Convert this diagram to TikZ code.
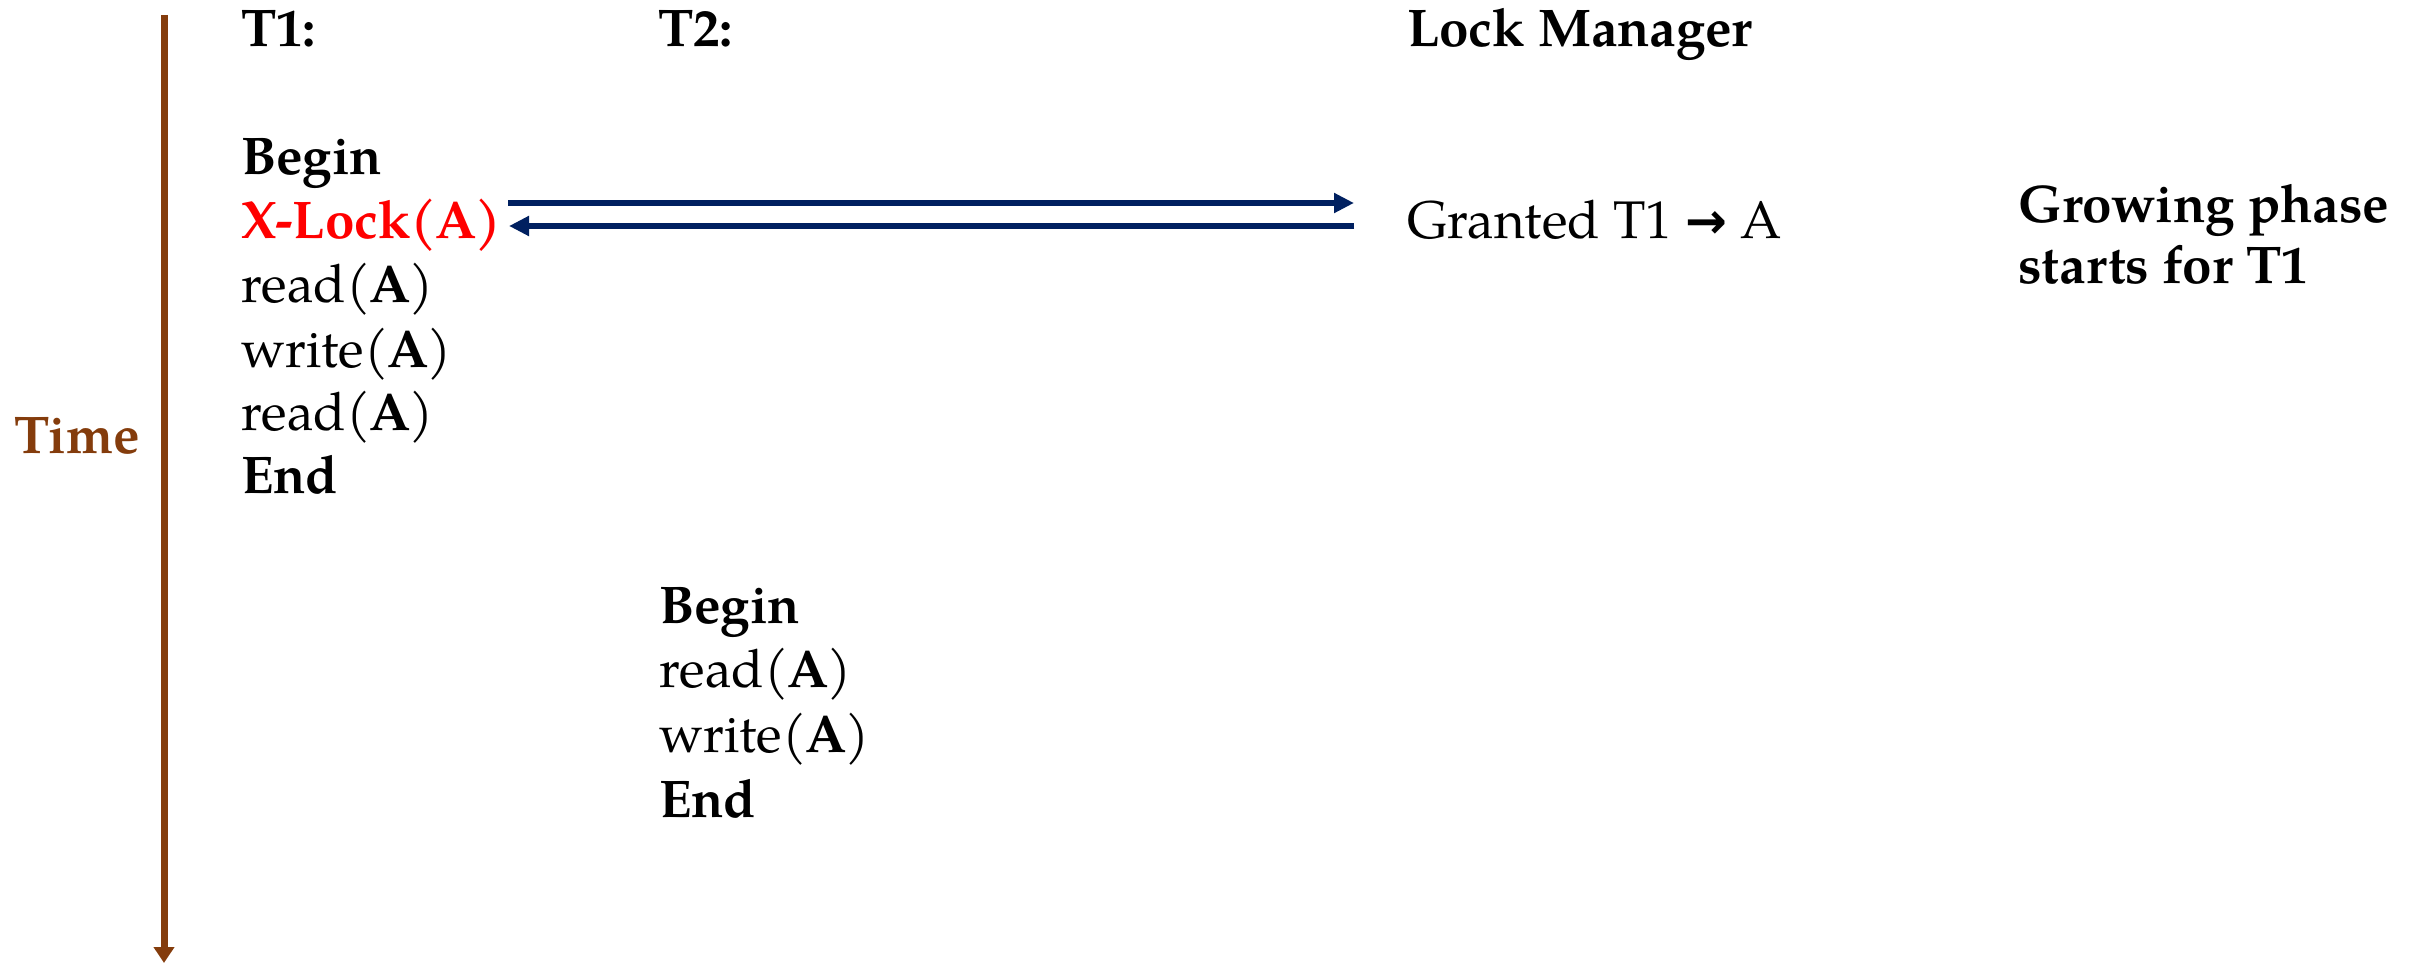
\documentclass[tikz,border=0pt]{standalone}
\usepackage{fontspec}
\setmainfont{TeX Gyre Pagella}
\newfontfamily\symfont{DejaVu Sans}
\usetikzlibrary{arrows.meta}
\definecolor{timebrown}{HTML}{843C0C}
\definecolor{msgnavy}{HTML}{002060}
\definecolor{lockred}{HTML}{FF0000}
\tikzset{
  txt/.style={anchor=base west, inner sep=0pt, outer sep=0pt, font=\fontsize{53}{64}\selectfont},
  hdr/.style={txt, font=\fontsize{53}{64}\selectfont\bfseries},
  msg/.style={draw=msgnavy, line width=6pt, -{Triangle[length=20pt,width=19pt]}},
}
\newcommand{\opA}[1]{#1(\kern-1pt\textbf{A}\kern-1pt)}
\begin{document}
\begin{tikzpicture}[x=1pt,y=-1pt]
\useasboundingbox (0,0) rectangle (2420,963);
% time axis
\coordinate (ttop) at (164,15);
\coordinate (tbot) at (164,963);
\draw[timebrown, line width=7pt, -{Triangle[length=16pt,width=20pt]}] (ttop) -- (tbot);
\node[hdr, text=timebrown] (time) at (14,453) {Time};
% column headers
\node[hdr] (h1) at (241,47) {T1:};
\node[hdr] (h2) at (658,47) {T2:};
\node[hdr] (hlm) at (1407,47) {Lock Manager};
% transaction T1
\node[hdr] (b1) at (241,175) {Begin};
\node[hdr, text=lockred] (xl) at (241,238) {X-Lock(\kern-1pt A\kern-1pt)};
\node[txt] (r1) at (241,302) {\opA{read}};
\node[txt] (w1) at (241,367) {\opA{write}};
\node[txt] (r2) at (241,430) {\opA{read}};
\node[hdr] (e1) at (241,493) {End};
% transaction T2
\node[hdr] (b2) at (659,623) {Begin};
\node[txt] (r3) at (659,687) {\opA{read}};
\node[txt] (w2) at (659,752) {\opA{write}};
\node[hdr] (e2) at (659,817) {End};
% lock manager reply
\node[txt] (gr) at (1407,238) {Granted T1 {\symfont\bfseries\fontsize{50}{60}\selectfont →} A};
\node[hdr] (gp1) at (2018,222) {Growing phase};
\node[hdr] (gp2) at (2018,283) {starts for T1};
% request and grant messages
\coordinate (reqs) at (508,203);
\coordinate (reqe) at (1354,203);
\coordinate (grs) at (1354,226);
\coordinate (gre) at (509,226);
\draw[msg] (reqs) -- (reqe);
\draw[msg] (grs) -- (gre);
\end{tikzpicture}
\end{document}
